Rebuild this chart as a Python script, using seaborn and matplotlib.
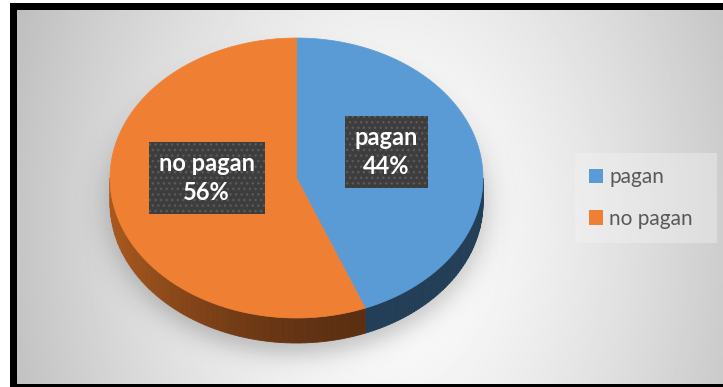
import numpy as np
import matplotlib
matplotlib.use("Agg")
import matplotlib.pyplot as plt
from matplotlib.patches import Polygon, Rectangle
import matplotlib.colors as mcolors
import seaborn as sns

# Data
categories = ["pagan", "no pagan"]
shares = [44, 56]
top_colors = ["#5b9bd5", "#ef8033"]

sns.set_theme(style="white")
plt.rcParams["font.family"] = ["Lato", "DejaVu Sans"]
plt.rcParams["hatch.linewidth"] = 1.0

W, H = 723, 387
fig = plt.figure(figsize=(W / 100, H / 100), dpi=100)
fig.patch.set_facecolor("white")
ax = fig.add_axes([0, 0, 1, 1])

# Black frame and gradient chart area
ax.add_patch(Rectangle((10, 3), W, H, facecolor="black", edgecolor="none", zorder=0))
x0, x1, y0, y1 = 17, 723, 10, 384
xs = np.linspace(x0, x1, 500)
ys = np.linspace(y0, y1, 260)
X, Y = np.meshgrid(xs, ys)
d = np.sqrt(((X - 390) / 365) ** 2 + ((Y - 230) / 520) ** 2)
bg = 1 - 0.22 * np.clip(d, 0, 1.2) ** 1.4
ax.imshow(bg, cmap="gray", vmin=0, vmax=1, extent=(x0, x1, y1, y0),
          zorder=1, interpolation="bilinear")

# Pie geometry (projected ellipse)
cx, cy, a, b, depth = 296.5, 178.0, 186.5, 140.0, 25.0


def ellipse_pts(t0, t1, dy=0.0, n=120):
    t = np.radians(np.linspace(t0, t1, n))
    return np.column_stack([cx + a * np.sin(t), cy - b * np.cos(t) + dy])


# Soft shadow under the pie
sx = np.linspace(50, 550, 500)
sy = np.linspace(30, 384, 354)
SX, SY = np.meshgrid(sx, sy)
de = np.sqrt(((SX - cx) / 190) ** 2 + ((SY - 205) / 150) ** 2)
alpha = 0.22 * 0.5 * (1 - np.tanh((de - 1) * 150 / 13))
shadow = np.zeros(SX.shape + (4,))
shadow[..., 3] = alpha
ax.imshow(shadow, extent=(sx[0], sx[-1], sy[-1], sy[0]), zorder=2,
          interpolation="bilinear")

fractions = np.array(shares, dtype=float) / sum(shares)
edges = np.concatenate([[0], np.cumsum(fractions) * 360])

dark_orange = np.array(mcolors.to_rgb("#5c2f12"))
light_orange = np.array(mcolors.to_rgb("#a9591f"))
blue_side = "#233e57"

# Side walls (front half only: 90..270 degrees clockwise from top)
for i, (t0, t1) in enumerate(zip(edges[:-1], edges[1:])):
    s0, s1 = max(t0, 90), min(t1, 270)
    if s0 >= s1:
        continue
    steps = np.linspace(s0, s1, 60)
    for u0, u1 in zip(steps[:-1], steps[1:]):
        top = ellipse_pts(u0, u1, 0, 6)
        bot = ellipse_pts(u1, u0, depth, 6)
        if i == 0:
            col = blue_side
        else:
            xm = cx + a * np.sin(np.radians((u0 + u1) / 2))
            f = np.clip((370 - xm) / 260, 0, 1) ** 1.8
            col = dark_orange + (light_orange - dark_orange) * f
        ax.add_patch(Polygon(np.vstack([top, bot]), closed=True,
                             facecolor=col, edgecolor=col, lw=0.6, zorder=3))

# Top faces
for i, (t0, t1) in enumerate(zip(edges[:-1], edges[1:])):
    pts = np.vstack([[cx, cy], ellipse_pts(t0, t1)])
    ax.add_patch(Polygon(pts, closed=True, facecolor=top_colors[i],
                         edgecolor=top_colors[i], lw=0.5, zorder=4))

# Data labels
for i, (t0, t1) in enumerate(zip(edges[:-1], edges[1:])):
    mid = np.radians((t0 + t1) / 2)
    lx = cx + 0.49 * a * np.sin(mid)
    ly = cy - 0.49 * b * np.cos(mid) - 13
    ax.text(lx, ly, f"{categories[i]}\n{shares[i]}%", ha="center", va="center",
            color="white", fontsize=17, fontweight="bold", linespacing=1.3,
            zorder=6,
            bbox=dict(boxstyle="square,pad=0.42", facecolor="#3d3d3d",
                      edgecolor="#5a5a5a", lw=0, hatch="..."))

# Legend
ax.add_patch(Rectangle((575, 153), 142, 90, facecolor="#f4f4f4", alpha=0.4,
                       edgecolor="none", zorder=2))
handles = [Rectangle((0, 0), 1, 1, facecolor=c, edgecolor="none") for c in top_colors]
leg = ax.legend(handles, categories, loc="center left",
                bbox_to_anchor=(589 / W, 1 - 198 / H), frameon=False,
                fontsize=15, handlelength=0.68, handleheight=0.68,
                handletextpad=0.3, labelspacing=1.05, borderpad=0,
                borderaxespad=0)
for t in leg.get_texts():
    t.set_color("#595959")

ax.set_xlim(0, W)
ax.set_ylim(H, 0)
ax.set_aspect("auto")
ax.axis("off")

fig.savefig("out.png", dpi=100)
